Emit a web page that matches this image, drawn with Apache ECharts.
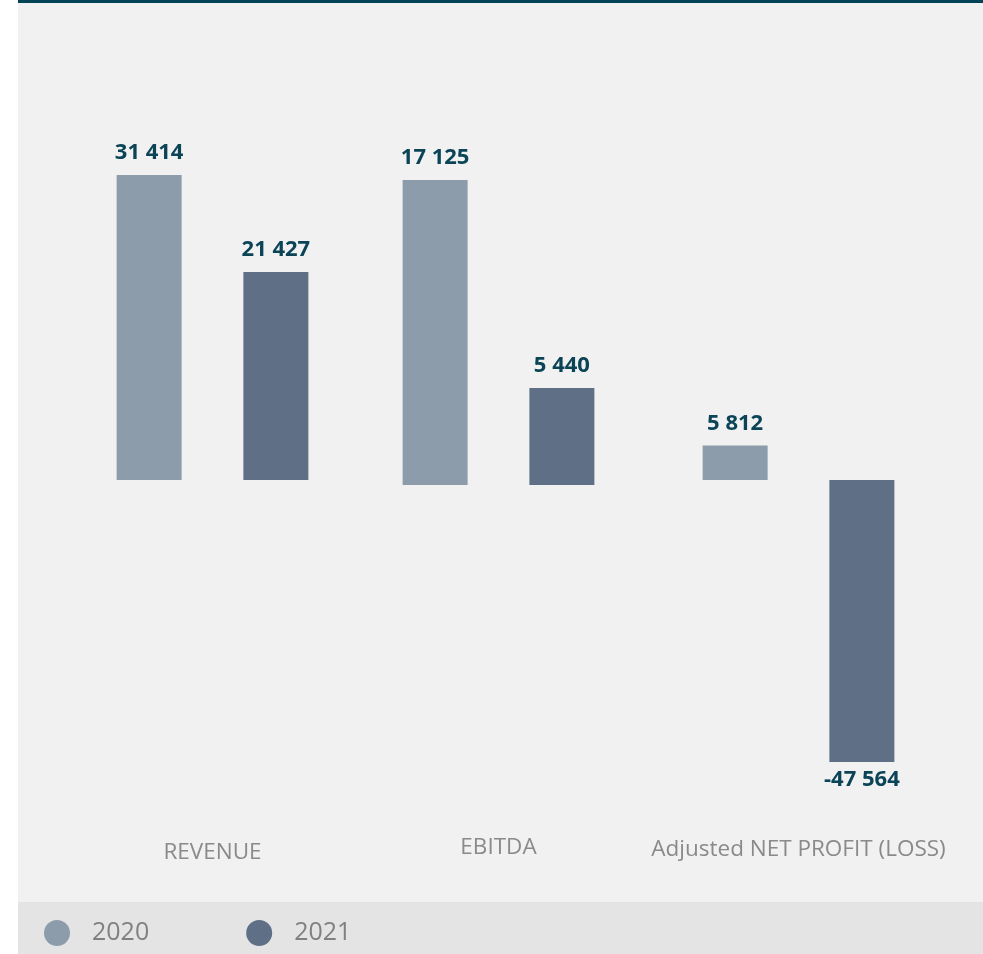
<!DOCTYPE html>
<html><head><meta charset="utf-8">
<script src="https://cdn.jsdelivr.net/npm/echarts@6/dist/echarts.min.js"></script>
<style>html,body{margin:0;padding:0;background:#fff}#c{width:983px;height:954px}</style>
</head><body><div id="c"></div>
<script>
const categories = ['REVENUE', 'EBITDA', 'Adjusted NET PROFIT (LOSS)'];
const seriesNames = ['2020', '2021'];
const values2020 = [31414, 17125, 5812];
const values2021 = [21427, 5440, -47564];

// each group is drawn on its own scale (as in the reference)
const yRanges = [[-32958, 39138], [-17687, 21617], [-53972, 64091]];
const gridLefts = [70, 356, 656];
const labelMargins = [41, 36, 38];

const FONT = '"Open Sans", "Noto Sans", sans-serif';
const colors = ['#8c9cab', '#5f7086'];
const fmt = v => (v < 0 ? '-' : '') + String(Math.abs(v)).replace(/\B(?=(\d{3})+(?!\d))/g, ' ');

const grids = [], xAxes = [], yAxes = [], series = [];
categories.forEach((cat, k) => {
  grids.push({ left: gridLefts[k], width: 285, top: 100, height: 700 });
  xAxes.push({
    type: 'category', gridIndex: k, data: [cat],
    axisLine: { show: false, onZero: false }, axisTick: { show: false },
    axisLabel: { margin: labelMargins[k], color: '#8a8a8a', fontSize: 22.5, fontFamily: FONT }
  });
  yAxes.push({ type: 'value', gridIndex: k, min: yRanges[k][0], max: yRanges[k][1], show: false, splitLine: { show: false } });
  [values2020, values2021].forEach((arr, s) => {
    const v = arr[k];
    series.push({
      name: seriesNames[s], type: 'bar', xAxisIndex: k, yAxisIndex: k,
      barWidth: 65, barGap: '95%',
      itemStyle: { color: colors[s] },
      data: [{ value: v, label: { position: v < 0 ? 'bottom' : 'top', distance: v < 0 ? 7 : 11 } }],
      label: {
        show: true, color: '#0b4457', fontSize: 22, fontWeight: 'bold', fontFamily: FONT,
        formatter: p => fmt(p.value)
      }
    });
  });
});

const chart = echarts.init(document.getElementById('c'), null, { renderer: 'canvas' });
chart.setOption({
  animation: false,
  backgroundColor: '#ffffff',
  graphic: [
    { type: 'rect', z: -10, shape: { x: 18, y: 0, width: 965, height: 902 }, style: { fill: '#f1f1f1' } },
    { type: 'rect', z: -9, shape: { x: 18, y: 0, width: 965, height: 3 }, style: { fill: '#024356' } },
    { type: 'rect', z: -10, shape: { x: 18, y: 902, width: 965, height: 52 }, style: { fill: '#e4e4e4' } }
  ],
  legend: {
    data: seriesNames, left: 44, top: 920, padding: 0, icon: 'circle', itemWidth: 26, itemHeight: 26, itemGap: 97,
    textStyle: { color: '#808080', fontSize: 25, fontFamily: FONT, padding: [0, 0, 0, 17] }
  },
  grid: grids, xAxis: xAxes, yAxis: yAxes, series: series
});
</script></body></html>
